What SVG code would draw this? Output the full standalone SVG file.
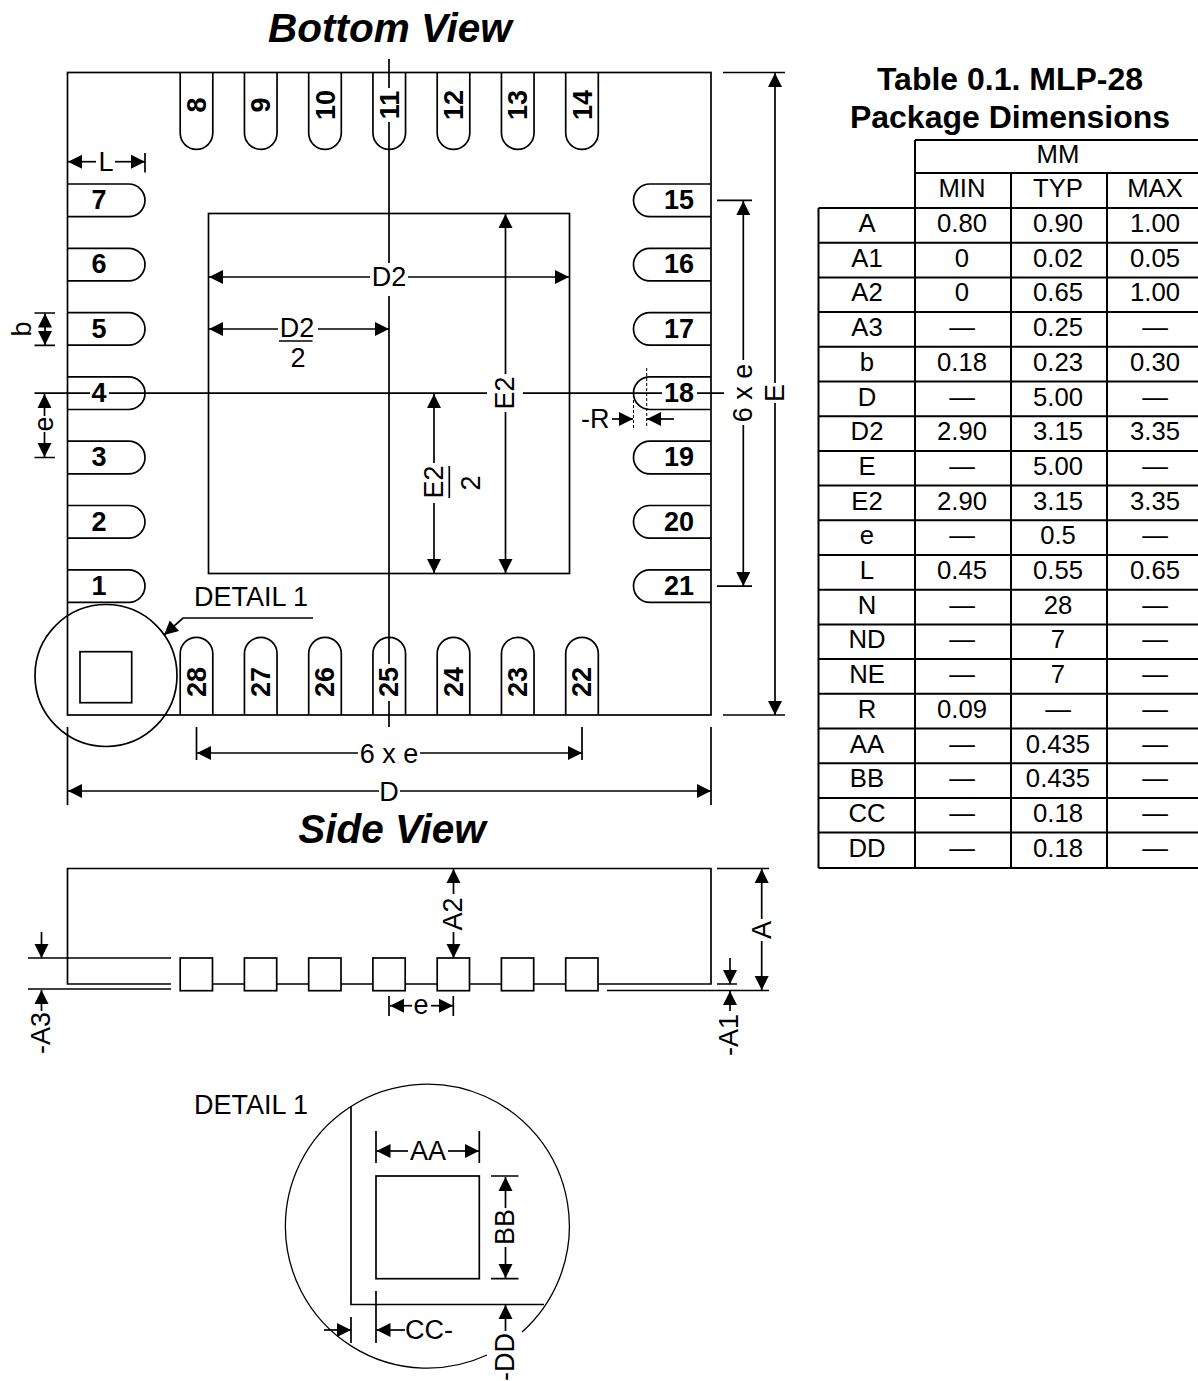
<svg xmlns="http://www.w3.org/2000/svg" width="1198" height="1381" viewBox="0 0 1198 1381">
<style>
text{font-family:"Liberation Sans",Arial,sans-serif;font-size:27px;fill:#000;text-anchor:middle}
.pn{font-weight:700}
.title{font-weight:700;font-style:italic;font-size:40.5px}
.tt{font-weight:700;font-size:32px}
.c{font-size:25.7px}
.s{text-anchor:start}
path,rect,circle{fill:none;stroke:#000;stroke-width:1.7}
.thin{stroke-width:1.3}
.dot{stroke-width:1;stroke-dasharray:3 2}
.a{marker-end:url(#arrow)}
.tb{stroke-width:2}
#arrowhead{fill:#000;stroke:none}
</style>
<defs>
<marker id="arrow" markerUnits="userSpaceOnUse" markerWidth="15" markerHeight="15" refX="14" refY="7" orient="auto" overflow="visible"><path id="arrowhead" d="M0 0L14 7L0 14z"/></marker>
<path id="pin-l" d="M67.5-16.3H128.7A16.3 16.3 0 0 1 128.7 16.3H67.5"/>
<path id="pin-r" d="M711-16.3H649.8A16.3 16.3 0 0 0 649.8 16.3H711"/>
<path id="pin-t" d="M-16.3 72V133A16.3 16.3 0 0 0 16.3 133V72"/>
<path id="pin-b" d="M-16.3 715V653.7A16.3 16.3 0 0 1 16.3 653.7V715"/>
</defs>

<text class="title" x="390" y="42">Bottom View</text>
<text class="title" x="392" y="843">Side View</text>

<g id="package-body"><rect x="67.5" y="72.5" width="643.5" height="642.5"/><rect x="208.5" y="213.5" width="361" height="360"/></g>

<g id="pin-1" transform="translate(0 586.1)"><use href="#pin-l"/><text class="pn" x="99" y="8.7">1</text></g>
<g id="pin-2" transform="translate(0 521.8)"><use href="#pin-l"/><text class="pn" x="99" y="8.7">2</text></g>
<g id="pin-3" transform="translate(0 457.5)"><use href="#pin-l"/><text class="pn" x="99" y="8.7">3</text></g>
<g id="pin-4" transform="translate(0 393.2)"><use href="#pin-l"/><text class="pn" x="99" y="8.7">4</text></g>
<g id="pin-5" transform="translate(0 328.9)"><use href="#pin-l"/><text class="pn" x="99" y="8.7">5</text></g>
<g id="pin-6" transform="translate(0 264.6)"><use href="#pin-l"/><text class="pn" x="99" y="8.7">6</text></g>
<g id="pin-7" transform="translate(0 200.3)"><use href="#pin-l"/><text class="pn" x="99" y="8.7">7</text></g>

<g id="pin-8" transform="translate(196.5 0)"><use href="#pin-t"/><text class="pn" transform="matrix(0 -1 1 0 9.5 105)">8</text></g>
<g id="pin-9" transform="translate(260.75 0)"><use href="#pin-t"/><text class="pn" transform="matrix(0 -1 1 0 9.5 105)">9</text></g>
<g id="pin-10" transform="translate(325 0)"><use href="#pin-t"/><text class="pn" transform="matrix(0 -1 1 0 9.5 105)">10</text></g>
<g id="pin-11" transform="translate(389.25 0)"><use href="#pin-t"/><text class="pn" transform="matrix(0 -1 1 0 9.5 105)">11</text></g>
<g id="pin-12" transform="translate(453.5 0)"><use href="#pin-t"/><text class="pn" transform="matrix(0 -1 1 0 9.5 105)">12</text></g>
<g id="pin-13" transform="translate(517.75 0)"><use href="#pin-t"/><text class="pn" transform="matrix(0 -1 1 0 9.5 105)">13</text></g>
<g id="pin-14" transform="translate(582 0)"><use href="#pin-t"/><text class="pn" transform="matrix(0 -1 1 0 9.5 105)">14</text></g>

<g id="pin-15" transform="translate(0 200.3)"><use href="#pin-r"/><text class="pn" x="679" y="8.7">15</text></g>
<g id="pin-16" transform="translate(0 264.6)"><use href="#pin-r"/><text class="pn" x="679" y="8.7">16</text></g>
<g id="pin-17" transform="translate(0 328.9)"><use href="#pin-r"/><text class="pn" x="679" y="8.7">17</text></g>
<g id="pin-18" transform="translate(0 393.2)"><use href="#pin-r"/><text class="pn" x="679" y="8.7">18</text></g>
<g id="pin-19" transform="translate(0 457.5)"><use href="#pin-r"/><text class="pn" x="679" y="8.7">19</text></g>
<g id="pin-20" transform="translate(0 521.8)"><use href="#pin-r"/><text class="pn" x="679" y="8.7">20</text></g>
<g id="pin-21" transform="translate(0 586.1)"><use href="#pin-r"/><text class="pn" x="679" y="8.7">21</text></g>

<g id="pin-22" transform="translate(582 0)"><use href="#pin-b"/><text class="pn" transform="matrix(0 -1 1 0 9 682)">22</text></g>
<g id="pin-23" transform="translate(517.75 0)"><use href="#pin-b"/><text class="pn" transform="matrix(0 -1 1 0 9 682)">23</text></g>
<g id="pin-24" transform="translate(453.5 0)"><use href="#pin-b"/><text class="pn" transform="matrix(0 -1 1 0 9 682)">24</text></g>
<g id="pin-25" transform="translate(389.25 0)"><use href="#pin-b"/><text class="pn" transform="matrix(0 -1 1 0 9 682)">25</text></g>
<g id="pin-26" transform="translate(325 0)"><use href="#pin-b"/><text class="pn" transform="matrix(0 -1 1 0 9 682)">26</text></g>
<g id="pin-27" transform="translate(260.75 0)"><use href="#pin-b"/><text class="pn" transform="matrix(0 -1 1 0 9 682)">27</text></g>
<g id="pin-28" transform="translate(196.5 0)"><use href="#pin-b"/><text class="pn" transform="matrix(0 -1 1 0 9 682)">28</text></g>

<g id="detail-marker"><circle cx="106" cy="675.5" r="71"/><rect x="80" y="651.7" width="51.7" height="51"/><text class="s" x="194" y="606">DETAIL 1</text></g>

<g id="side-view">
<path d="M171 984H67.5V868.5H711V984H598M565.7 984H534M501 984H470M437 984H405M372 984H341M309 984H277M244 984H212"/>
<rect x="180.2" y="958" width="32.3" height="32.7"/><rect x="244.4" y="958" width="32.3" height="32.7"/><rect x="308.7" y="958" width="32.3" height="32.7"/><rect x="372.9" y="958" width="32.3" height="32.7"/><rect x="437.2" y="958" width="32.3" height="32.7"/><rect x="501.4" y="958" width="32.3" height="32.7"/><rect x="565.7" y="958" width="32.3" height="32.7"/>
</g>

<g id="detail-1">
<text class="s" x="194" y="1114">DETAIL 1</text>
<path class="thin" d="M522 1332A142 142 0 1 0 487 1355"/>
<path d="M351 1106V1304.5H544"/>
<rect x="376" y="1176" width="103.3" height="102.7"/>
</g>

<g id="connectors">
<path d="M389 59V88M389 122V263M389 296V664M389 701V727"/>
<path d="M34.5 393.2H90M109 393.2H487M523 393.2H662M697 393.2H724"/>
<path class="dot" d="M633.5 400V428M646.7 368V428"/>
<path class="a" d="M612 419H633"/><path class="a" d="M674 419H647"/>
<path class="a" d="M96 161.7H68"/><path class="a" d="M115 161.7H145"/><path d="M145 153V172.5"/>
<path d="M34.5 313H55M34.5 345.3H55M34.5 457.5H55"/>
<path class="a" d="M45 329V313.5"/><path class="a" d="M45 329V345"/>
<path class="a" d="M44.5 416V394"/><path class="a" d="M44.5 432V457"/>
<path class="a" d="M370 277H209"/><path class="a" d="M408 277H569"/>
<path class="a" d="M278 329H209"/><path class="a" d="M318 329H389"/>
<path d="M279 341H312.5"/>
<path class="a" d="M505.5 374V214"/><path class="a" d="M505.5 412V573"/>
<path class="a" d="M434 463V394"/><path class="a" d="M434 503V573"/>
<path d="M449.3 466V498"/>
<path d="M717 200.3H752M717 586.1H752"/>
<path class="a" d="M743.3 360V201"/><path class="a" d="M743.3 425V586"/>
<path d="M723 72.5H785M723 715H785"/>
<path class="a" d="M775 383V73"/><path class="a" d="M775 403V715"/>
<path d="M196.5 727V760M582 727V760"/>
<path class="a" d="M358 753H197"/><path class="a" d="M420 753H582"/>
<path d="M67.5 727V805M711 727V805"/>
<path class="a" d="M379 791H68"/><path class="a" d="M400 791H711"/>
<path class="a" d="M313 618H183L164 635"/>
<path d="M28 958H171M28 989H171M607 990.5H769M717 868.5H769M717 984H737"/>
<path class="a" d="M41.5 932V958"/><path class="a" d="M41.5 1011V990"/>
<path class="a" d="M761.7 919V869"/><path class="a" d="M761.7 941V990"/>
<path class="a" d="M730 958V984"/><path class="a" d="M730 1011V991"/>
<path class="a" d="M453.5 894V869"/><path class="a" d="M453.5 932V958"/>
<path d="M389 996V1016M453.3 996V1016"/>
<path class="a" d="M412 1005.7H390"/><path class="a" d="M431 1005.7H453"/>
<path d="M376 1131V1163M479.3 1131V1163"/>
<path class="a" d="M408 1151H376.5"/><path class="a" d="M448 1151H479"/>
<path d="M491 1176H518.5M491 1278.7H518.5"/>
<path class="a" d="M505.5 1208V1177"/><path class="a" d="M505.5 1247V1278"/>
<path class="a" d="M505.5 1331V1305"/>
<path d="M351 1317V1343M376 1291V1343"/>
<path class="a" d="M324 1330H351"/><path class="a" d="M405 1330H376.5"/>
</g>

<g id="dimension-labels">
<text x="106" y="171">L</text>
<text transform="matrix(0 -1 1 0 30.5 329)">b</text>
<text transform="matrix(0 -1 1 0 53 424)">e</text>
<text x="389" y="286">D2</text>
<text x="297" y="336.5">D2</text>
<text x="298" y="367">2</text>
<text transform="matrix(0 -1 1 0 513.5 393)">E2</text>
<text transform="matrix(0 -1 1 0 442.7 482)">E2</text>
<text transform="matrix(0 -1 1 0 480 483)">2</text>
<text class="s" x="581" y="428">-R</text>
<text transform="matrix(0 -1 1 0 752 393)">6 x e</text>
<text transform="matrix(0 -1 1 0 783.5 393)">E</text>
<text x="389" y="762.5">6 x e</text>
<text x="389" y="800.5">D</text>
<text transform="matrix(0 -1 1 0 461.5 914)">A2</text>
<text transform="matrix(0 -1 1 0 770.5 930)">A</text>
<text class="s" transform="matrix(0 -1 1 0 738 1056)">-A1</text>
<text class="s" transform="matrix(0 -1 1 0 50 1054)">-A3</text>
<text x="421" y="1014">e</text>
<text x="428" y="1160">AA</text>
<text transform="matrix(0 -1 1 0 514 1227)">BB</text>
<text class="s" x="405" y="1339">CC-</text>
<text class="s" transform="matrix(0 -1 1 0 514 1381)">-DD</text>
</g>

<g id="table">
<text class="tt" x="1010" y="90">Table 0.1. MLP-28</text>
<text class="tt" x="1010" y="128">Package Dimensions</text>
<path class="tb" d="M915 140H1200M915 173H1200M915 208H1200M818.5 208H915M818.5 242.7H1200M818.5 277.4H1200M818.5 312.1H1200M818.5 346.8H1200M818.5 381.5H1200M818.5 416.2H1200M818.5 450.9H1200M818.5 485.6H1200M818.5 520.3H1200M818.5 555H1200M818.5 589.7H1200M818.5 624.4H1200M818.5 659.1H1200M818.5 693.8H1200M818.5 728.5H1200M818.5 763.2H1200M818.5 797.9H1200M818.5 832.6H1200M818.5 868H1200M818.5 208V868M915 140V868M1011 173V868M1107 173V868"/>
<g class="cells">
<text class="c" x="1058" y="163">MM</text><text class="c" x="962" y="197">MIN</text><text class="c" x="1058" y="197">TYP</text><text class="c" x="1155" y="197">MAX</text>
<text class="c" x="867" y="232">A</text><text class="c" x="962" y="232">0.80</text><text class="c" x="1058" y="232">0.90</text><text class="c" x="1155" y="232">1.00</text>
<text class="c" x="867" y="266.7">A1</text><text class="c" x="962" y="266.7">0</text><text class="c" x="1058" y="266.7">0.02</text><text class="c" x="1155" y="266.7">0.05</text>
<text class="c" x="867" y="301.4">A2</text><text class="c" x="962" y="301.4">0</text><text class="c" x="1058" y="301.4">0.65</text><text class="c" x="1155" y="301.4">1.00</text>
<text class="c" x="867" y="336.1">A3</text><text class="c" x="962" y="336.1">—</text><text class="c" x="1058" y="336.1">0.25</text><text class="c" x="1155" y="336.1">—</text>
<text class="c" x="867" y="370.8">b</text><text class="c" x="962" y="370.8">0.18</text><text class="c" x="1058" y="370.8">0.23</text><text class="c" x="1155" y="370.8">0.30</text>
<text class="c" x="867" y="405.5">D</text><text class="c" x="962" y="405.5">—</text><text class="c" x="1058" y="405.5">5.00</text><text class="c" x="1155" y="405.5">—</text>
<text class="c" x="867" y="440.2">D2</text><text class="c" x="962" y="440.2">2.90</text><text class="c" x="1058" y="440.2">3.15</text><text class="c" x="1155" y="440.2">3.35</text>
<text class="c" x="867" y="474.9">E</text><text class="c" x="962" y="474.9">—</text><text class="c" x="1058" y="474.9">5.00</text><text class="c" x="1155" y="474.9">—</text>
<text class="c" x="867" y="509.6">E2</text><text class="c" x="962" y="509.6">2.90</text><text class="c" x="1058" y="509.6">3.15</text><text class="c" x="1155" y="509.6">3.35</text>
<text class="c" x="867" y="544.3">e</text><text class="c" x="962" y="544.3">—</text><text class="c" x="1058" y="544.3">0.5</text><text class="c" x="1155" y="544.3">—</text>
<text class="c" x="867" y="579">L</text><text class="c" x="962" y="579">0.45</text><text class="c" x="1058" y="579">0.55</text><text class="c" x="1155" y="579">0.65</text>
<text class="c" x="867" y="613.7">N</text><text class="c" x="962" y="613.7">—</text><text class="c" x="1058" y="613.7">28</text><text class="c" x="1155" y="613.7">—</text>
<text class="c" x="867" y="648.4">ND</text><text class="c" x="962" y="648.4">—</text><text class="c" x="1058" y="648.4">7</text><text class="c" x="1155" y="648.4">—</text>
<text class="c" x="867" y="683.1">NE</text><text class="c" x="962" y="683.1">—</text><text class="c" x="1058" y="683.1">7</text><text class="c" x="1155" y="683.1">—</text>
<text class="c" x="867" y="717.8">R</text><text class="c" x="962" y="717.8">0.09</text><text class="c" x="1058" y="717.8">—</text><text class="c" x="1155" y="717.8">—</text>
<text class="c" x="867" y="752.5">AA</text><text class="c" x="962" y="752.5">—</text><text class="c" x="1058" y="752.5">0.435</text><text class="c" x="1155" y="752.5">—</text>
<text class="c" x="867" y="787.2">BB</text><text class="c" x="962" y="787.2">—</text><text class="c" x="1058" y="787.2">0.435</text><text class="c" x="1155" y="787.2">—</text>
<text class="c" x="867" y="821.9">CC</text><text class="c" x="962" y="821.9">—</text><text class="c" x="1058" y="821.9">0.18</text><text class="c" x="1155" y="821.9">—</text>
<text class="c" x="867" y="856.6">DD</text><text class="c" x="962" y="856.6">—</text><text class="c" x="1058" y="856.6">0.18</text><text class="c" x="1155" y="856.6">—</text>
</g>
</g>
</svg>
